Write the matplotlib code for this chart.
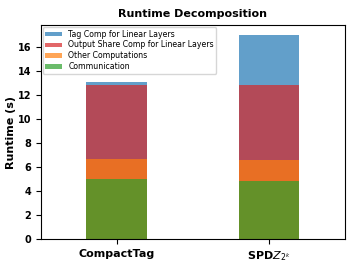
import numpy as np
import matplotlib
matplotlib.use("Agg")
import matplotlib.pyplot as plt

# Data
systems = ["CompactTag", r"SPD$Z_{2^k}$"]
communication = [5.0, 4.9]
other_comp = [1.7, 1.7]
output_share = [6.2, 6.3]
tag_comp = [0.2, 4.1]

comm = np.array(communication)
other_top = comm + np.array(other_comp)
out_top = other_top + np.array(output_share)
tag_top = out_top + np.array(tag_comp)

x = np.arange(len(systems))
w = 0.4

fig, ax = plt.subplots(figsize=(3.54, 2.66), dpi=100)

# overlapping bars drawn from zero, translucent
ax.bar(x, tag_top, w, color="tab:blue", alpha=0.7, label="Tag Comp for Linear Layers")
ax.bar(x, out_top, w, color="tab:red", alpha=0.7, label="Output Share Comp for Linear Layers")
ax.bar(x, other_top, w, color="tab:orange", alpha=0.7, label="Other Computations")
ax.bar(x, comm, w, color="tab:green", alpha=0.7, label="Communication")

ax.set_xlim(-0.5, 1.5)
ax.set_xticks(x)
ax.set_xticklabels(systems, fontsize=8, fontweight="bold")
ax.set_yticks(np.arange(0, 17, 2))
for t in ax.get_yticklabels():
    t.set_fontweight("bold")
    t.set_fontsize(7)
ax.set_ylabel("Runtime (s)", fontsize=8, fontweight="bold", labelpad=1)
ax.set_title("Runtime Decomposition", fontsize=8, fontweight="bold")
ax.legend(loc="upper left", fontsize=5.6, labelspacing=0.25, handleheight=0.5,
          handlelength=2.2, borderaxespad=0.25, borderpad=0.3)

plt.subplots_adjust(left=0.115, right=0.975, top=0.905, bottom=0.1)
plt.savefig("out.png", dpi=100)
